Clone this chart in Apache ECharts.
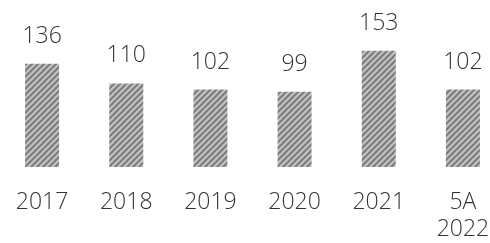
<!DOCTYPE html>
<html><head><meta charset="utf-8">
<script src="https://cdn.jsdelivr.net/npm/echarts@6/dist/echarts.min.js"></script>
<style>html,body{margin:0;padding:0;background:#fff}#c{width:490px;height:243px}</style>
</head><body><div id="c"></div>
<script>
const categories = ['2017', '2018', '2019', '2020', '2021', '5A\n2022'];
const values = [136, 110, 102, 99, 153, 102];

function stripe() {
  const c = document.createElement('canvas');
  c.width = 6; c.height = 6;
  const g = c.getContext('2d');
  g.fillStyle = '#c4c4c4'; g.fillRect(0, 0, 6, 6);
  g.strokeStyle = '#7d7d7d'; g.lineWidth = 2.2;
  g.beginPath();
  g.moveTo(-3, 3); g.lineTo(3, -3);
  g.moveTo(0, 6); g.lineTo(6, 0);
  g.moveTo(3, 9); g.lineTo(9, 3);
  g.stroke();
  return c;
}

const FONT = 'Open Sans';
const chart = echarts.init(document.getElementById('c'), null, {renderer: 'canvas'});
chart.setOption({
  animation: false,
  grid: {left: 0, width: 505, top: 15, height: 152, containLabel: false, outerBoundsMode: 'none'},
  xAxis: {
    type: 'category', data: categories,
    axisLine: {show: false}, axisTick: {show: false},
    axisLabel: {interval: 0, margin: 22, fontFamily: FONT, fontWeight: 300, fontSize: 23, lineHeight: 27, color: '#333'}
  },
  yAxis: {type: 'value', min: 0, max: 200, show: false},
  series: [{
    type: 'bar', data: values, barWidth: 34,
    itemStyle: {color: {image: stripe(), repeat: 'repeat'}},
    label: {show: true, position: 'top', distance: 16, fontFamily: FONT, fontWeight: 300, fontSize: 23, color: '#333'}
  }]
});
</script></body></html>
